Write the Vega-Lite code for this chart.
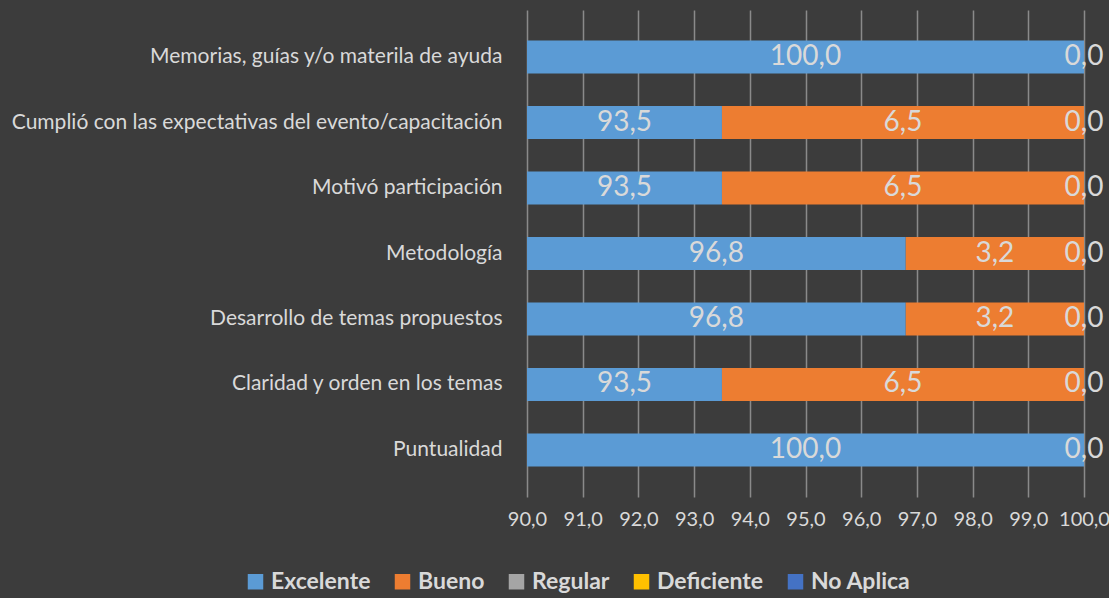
{
  "$schema": "https://vega.github.io/schema/vega-lite/v6.json",
  "width": 557,
  "height": 487,
  "autosize": {"type": "none"},
  "padding": {"left": 527, "top": 10, "right": 25, "bottom": 101},
  "background": "#3c3c3c",
  "config": {
    "locale": {"number": {"decimal": ",", "thousands": ".", "grouping": [3], "currency": ["", " €"]}},
    "view": {"stroke": null},
    "font": "Lato"
  },
  "data": {
    "values": [
      {"cat": "Memorias, guías y/o materila de ayuda", "nivel": "Excelente", "ord": 1, "value": 100.0},
      {"cat": "Memorias, guías y/o materila de ayuda", "nivel": "Bueno", "ord": 2, "value": 0.0},
      {"cat": "Memorias, guías y/o materila de ayuda", "nivel": "Regular", "ord": 3, "value": 0.0},
      {"cat": "Memorias, guías y/o materila de ayuda", "nivel": "Deficiente", "ord": 4, "value": 0.0},
      {"cat": "Memorias, guías y/o materila de ayuda", "nivel": "No Aplica", "ord": 5, "value": 0.0},
      {"cat": "Cumplió con las expectativas del evento/capacitación", "nivel": "Excelente", "ord": 1, "value": 93.5},
      {"cat": "Cumplió con las expectativas del evento/capacitación", "nivel": "Bueno", "ord": 2, "value": 6.5},
      {"cat": "Cumplió con las expectativas del evento/capacitación", "nivel": "Regular", "ord": 3, "value": 0.0},
      {"cat": "Cumplió con las expectativas del evento/capacitación", "nivel": "Deficiente", "ord": 4, "value": 0.0},
      {"cat": "Cumplió con las expectativas del evento/capacitación", "nivel": "No Aplica", "ord": 5, "value": 0.0},
      {"cat": "Motivó participación", "nivel": "Excelente", "ord": 1, "value": 93.5},
      {"cat": "Motivó participación", "nivel": "Bueno", "ord": 2, "value": 6.5},
      {"cat": "Motivó participación", "nivel": "Regular", "ord": 3, "value": 0.0},
      {"cat": "Motivó participación", "nivel": "Deficiente", "ord": 4, "value": 0.0},
      {"cat": "Motivó participación", "nivel": "No Aplica", "ord": 5, "value": 0.0},
      {"cat": "Metodología", "nivel": "Excelente", "ord": 1, "value": 96.8},
      {"cat": "Metodología", "nivel": "Bueno", "ord": 2, "value": 3.2},
      {"cat": "Metodología", "nivel": "Regular", "ord": 3, "value": 0.0},
      {"cat": "Metodología", "nivel": "Deficiente", "ord": 4, "value": 0.0},
      {"cat": "Metodología", "nivel": "No Aplica", "ord": 5, "value": 0.0},
      {"cat": "Desarrollo de temas propuestos", "nivel": "Excelente", "ord": 1, "value": 96.8},
      {"cat": "Desarrollo de temas propuestos", "nivel": "Bueno", "ord": 2, "value": 3.2},
      {"cat": "Desarrollo de temas propuestos", "nivel": "Regular", "ord": 3, "value": 0.0},
      {"cat": "Desarrollo de temas propuestos", "nivel": "Deficiente", "ord": 4, "value": 0.0},
      {"cat": "Desarrollo de temas propuestos", "nivel": "No Aplica", "ord": 5, "value": 0.0},
      {"cat": "Claridad y orden en los temas", "nivel": "Excelente", "ord": 1, "value": 93.5},
      {"cat": "Claridad y orden en los temas", "nivel": "Bueno", "ord": 2, "value": 6.5},
      {"cat": "Claridad y orden en los temas", "nivel": "Regular", "ord": 3, "value": 0.0},
      {"cat": "Claridad y orden en los temas", "nivel": "Deficiente", "ord": 4, "value": 0.0},
      {"cat": "Claridad y orden en los temas", "nivel": "No Aplica", "ord": 5, "value": 0.0},
      {"cat": "Puntualidad", "nivel": "Excelente", "ord": 1, "value": 100.0},
      {"cat": "Puntualidad", "nivel": "Bueno", "ord": 2, "value": 0.0},
      {"cat": "Puntualidad", "nivel": "Regular", "ord": 3, "value": 0.0},
      {"cat": "Puntualidad", "nivel": "Deficiente", "ord": 4, "value": 0.0},
      {"cat": "Puntualidad", "nivel": "No Aplica", "ord": 5, "value": 0.0}
    ]
  },
  "encoding": {
    "y": {
      "field": "cat",
      "type": "nominal",
      "sort": ["Memorias, guías y/o materila de ayuda", "Cumplió con las expectativas del evento/capacitación", "Motivó participación", "Metodología", "Desarrollo de temas propuestos", "Claridad y orden en los temas", "Puntualidad"],
      "scale": {"paddingInner": 0.496, "paddingOuter": 0.466},
      "axis": {
        "title": null,
        "domain": false,
        "ticks": false,
        "grid": false,
        "labelFont": "Lato",
        "labelFontSize": 21,
        "labelColor": "#d9d9d9",
        "labelPadding": 25,
        "labelLimit": 600
      }
    }
  },
  "layer": [
    {
      "mark": {"type": "bar", "clip": true},
      "encoding": {
        "x": {
          "field": "value",
          "type": "quantitative",
          "stack": "zero",
          "scale": {"domain": [90, 100], "nice": false, "zero": false},
          "axis": {
            "title": null,
            "values": [90, 91, 92, 93, 94, 95, 96, 97, 98, 99, 100],
            "format": ".1f",
            "domain": false,
            "ticks": false,
            "grid": true,
            "gridColor": "#8a8a8a",
            "gridWidth": 1.5,
            "labelFont": "Lato",
            "labelFontSize": 20,
            "labelColor": "#d9d9d9",
            "labelPadding": 12,
            "labelFlush": false
          }
        },
        "color": {
          "field": "nivel",
          "type": "nominal",
          "sort": ["Excelente", "Bueno", "Regular", "Deficiente", "No Aplica"],
          "scale": {
            "domain": ["Excelente", "Bueno", "Regular", "Deficiente", "No Aplica"],
            "range": ["#5b9bd5", "#ed7d31", "#a5a5a5", "#ffc000", "#4472c4"]
          },
          "legend": {
            "title": null,
            "orient": "none",
            "direction": "horizontal",
            "legendX": -283,
            "legendY": 560,
            "symbolType": "square",
            "symbolSize": 240,
            "symbolStrokeWidth": 0,
            "symbolOpacity": 1,
            "labelFont": "Lato",
            "labelFontSize": 23,
            "labelFontWeight": "bold",
            "labelColor": "#d9d9d9",
            "columnPadding": 20,
            "labelOffset": 4
          }
        },
        "order": {"field": "ord", "type": "quantitative"}
      }
    },
    {
      "transform": [
        {"stack": "value", "groupby": ["cat"], "sort": [{"field": "ord", "order": "ascending"}], "as": ["v0", "v1"]},
        {"filter": "datum.value > 0 || datum.nivel == 'No Aplica'"},
        {"calculate": "(max(datum.v0, 90) + datum.v1) / 2", "as": "mid"}
      ],
      "mark": {"type": "text", "font": "Lato", "fontSize": 28, "color": "#d9d9d9", "align": "center", "baseline": "middle"},
      "encoding": {
        "x": {"field": "mid", "type": "quantitative"},
        "text": {"field": "value", "type": "quantitative", "format": ".1f"}
      }
    }
  ]
}
